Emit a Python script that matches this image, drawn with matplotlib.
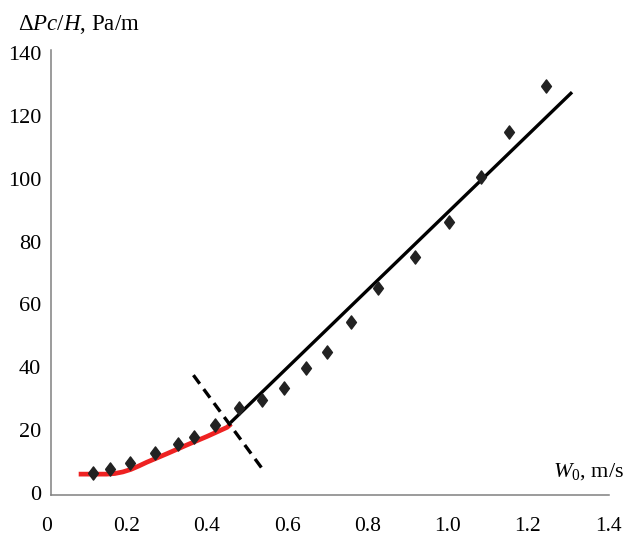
import numpy as np
import matplotlib
matplotlib.use("Agg")
import matplotlib.pyplot as plt

plt.rcParams['font.family'] = ['Liberation Serif', 'DejaVu Serif']
plt.rcParams['mathtext.fontset'] = 'custom'
plt.rcParams['mathtext.rm'] = 'Liberation Serif'
plt.rcParams['mathtext.it'] = 'Liberation Serif:italic'

# measured points
w0 = [0.116, 0.158, 0.208, 0.270, 0.328, 0.368, 0.421, 0.480, 0.536, 0.592,
      0.647, 0.698, 0.758, 0.827, 0.918, 1.003, 1.082, 1.154, 1.244]
dp = [6.3, 7.6, 9.4, 12.6, 15.5, 17.7, 21.6, 26.9, 29.6, 33.5,
      39.7, 45.0, 54.5, 65.1, 75.0, 86.1, 100.7, 115.0, 129.5]

# red curve (fixed bed)
red_x = [0.08, 0.12, 0.15, 0.17, 0.19, 0.21, 0.23, 0.25, 0.30, 0.35, 0.40, 0.45, 0.46]
red_y = [6.0, 6.0, 6.0, 6.2, 6.7, 7.5, 8.6, 9.8, 12.5, 15.3, 18.0, 20.9, 22.0]

# black line (fluidized)
blk_x = [0.461, 1.307]
blk_y = [22.7, 127.2]

# dashed separator
dash_x = [0.366, 0.540]
dash_y = [37.5, 7.3]

xticks = [0, 0.2, 0.4, 0.6, 0.8, 1.0, 1.2, 1.4]
xtick_labels = ['0', '0.2', '0.4', '0.6', '0.8', '1.0', '1.2', '1.4']
yticks = [0, 20, 40, 60, 80, 100, 120, 140]

fig = plt.figure(figsize=(6.33, 5.37), dpi=100)
ax = fig.add_axes([0.0806, 0.0773, 0.8814, 0.8296])

ax.plot(red_x, red_y, color='#ee2222', lw=3.4, solid_capstyle='butt', zorder=2)
ax.plot(blk_x, blk_y, color='black', lw=2.4, zorder=2)
ax.plot(dash_x, dash_y, color='black', lw=2.4, ls=(0, (3.2, 2.0)), zorder=2)

diamond = [(-0.75, 0), (0, 1), (0.75, 0), (0, -1), (-0.75, 0)]
ax.plot(w0, dp, ls='none', marker=diamond, markersize=9.5, color='#222222', zorder=3)

ax.set_xlim(0.011, 1.402)
ax.set_ylim(-0.8, 141)

for s in ['top', 'right']:
    ax.spines[s].set_visible(False)
for s in ['left', 'bottom']:
    ax.spines[s].set_color('#808080')
    ax.spines[s].set_linewidth(1.1)

ax.set_xticks([])
ax.set_yticks(yticks)
ax.set_yticklabels([str(v) for v in yticks], fontsize=16)
ax.tick_params(axis='y', length=0, pad=7)

for xv, lab in zip(xticks, xtick_labels):
    ax.text(xv, -10.6, lab, ha='center', va='center', fontsize=15.5, clip_on=False)

ax.text(1.44, 6.7, r'$W_0$, m/s', ha='right', va='center', fontsize=16)
fig.text(18 / 633, 1 - 25 / 537, r'$\Delta Pc/H$, Pa/m', ha='left', va='center', fontsize=16.5)

fig.savefig('out.png', dpi=100)
